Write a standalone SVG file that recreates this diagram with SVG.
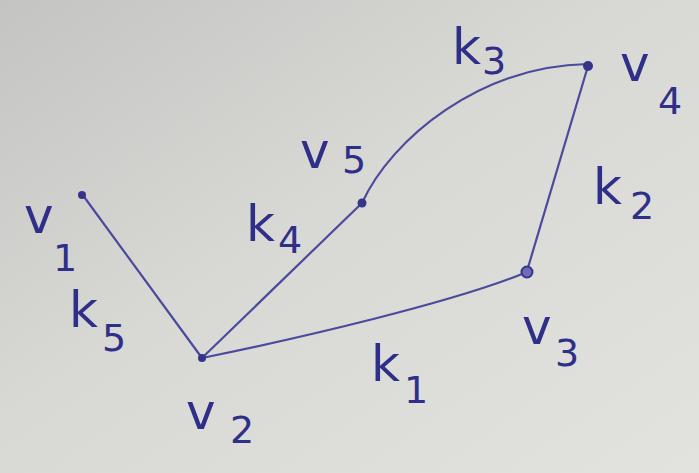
<svg xmlns="http://www.w3.org/2000/svg" width="699" height="473" viewBox="0 0 699 473">
<defs>
<linearGradient id="paper" x1="0" y1="0" x2="1" y2="1">
<stop offset="0" stop-color="#c4c4c2"/>
<stop offset="0.45" stop-color="#d8d8d5"/>
<stop offset="1" stop-color="#e2e2df"/>
</linearGradient>
<style>
.edge{fill:none;stroke:#4b4a9c;stroke-width:2.2;stroke-linecap:round}
.dot{fill:#35348a}
.ring{fill:#6e6cb8;stroke:#35348a;stroke-width:2}
.lbl{font-family:"DejaVu Sans","Liberation Sans",sans-serif;fill:#2f2e88;font-weight:normal}
.big{font-size:50px}
.sub{font-size:38px}
</style>
</defs>
<rect width="699" height="473" fill="url(#paper)"/>
<g id="connectors">
<path class="edge" d="M82,194 L202,358"/>
<path class="edge" d="M202,358 L362,203"/>
<path class="edge" d="M362,203 C392,138 480,66 588,64"/>
<path class="edge" d="M588,66 L527,271"/>
<path class="edge" d="M202,358 C300,338 455,302 527,272"/>
</g>
<g id="v1"><circle class="dot" cx="82" cy="195" r="4"/><text class="lbl"><tspan class="big" x="24" y="233">v</tspan><tspan class="sub" x="53" y="271">1</tspan></text></g>
<g id="v2"><circle class="dot" cx="202" cy="358" r="4"/><text class="lbl"><tspan class="big" x="186" y="429">v</tspan><tspan class="sub" x="230" y="443">2</tspan></text></g>
<g id="v3"><circle class="ring" cx="527" cy="272" r="5.5"/><text class="lbl"><tspan class="big" x="522" y="344">v</tspan><tspan class="sub" x="555" y="366">3</tspan></text></g>
<g id="v4"><circle class="dot" cx="588" cy="66" r="5"/><text class="lbl"><tspan class="big" x="620" y="81">v</tspan><tspan class="sub" x="658" y="114">4</tspan></text></g>
<g id="v5"><circle class="dot" cx="362" cy="203" r="4.5"/><text class="lbl"><tspan class="big" x="300" y="168">v</tspan><tspan class="sub" x="342" y="173">5</tspan></text></g>
<g id="k1"><text class="lbl"><tspan class="big" x="371" y="381">k</tspan><tspan class="sub" x="404" y="403">1</tspan></text></g>
<g id="k2"><text class="lbl"><tspan class="big" x="593" y="204">k</tspan><tspan class="sub" x="630" y="219">2</tspan></text></g>
<g id="k3"><text class="lbl"><tspan class="big" x="452" y="64">k</tspan><tspan class="sub" x="482" y="74">3</tspan></text></g>
<g id="k4"><text class="lbl"><tspan class="big" x="246" y="241">k</tspan><tspan class="sub" x="278" y="253">4</tspan></text></g>
<g id="k5"><text class="lbl"><tspan class="big" x="69" y="327">k</tspan><tspan class="sub" x="102" y="351">5</tspan></text></g>
</svg>
